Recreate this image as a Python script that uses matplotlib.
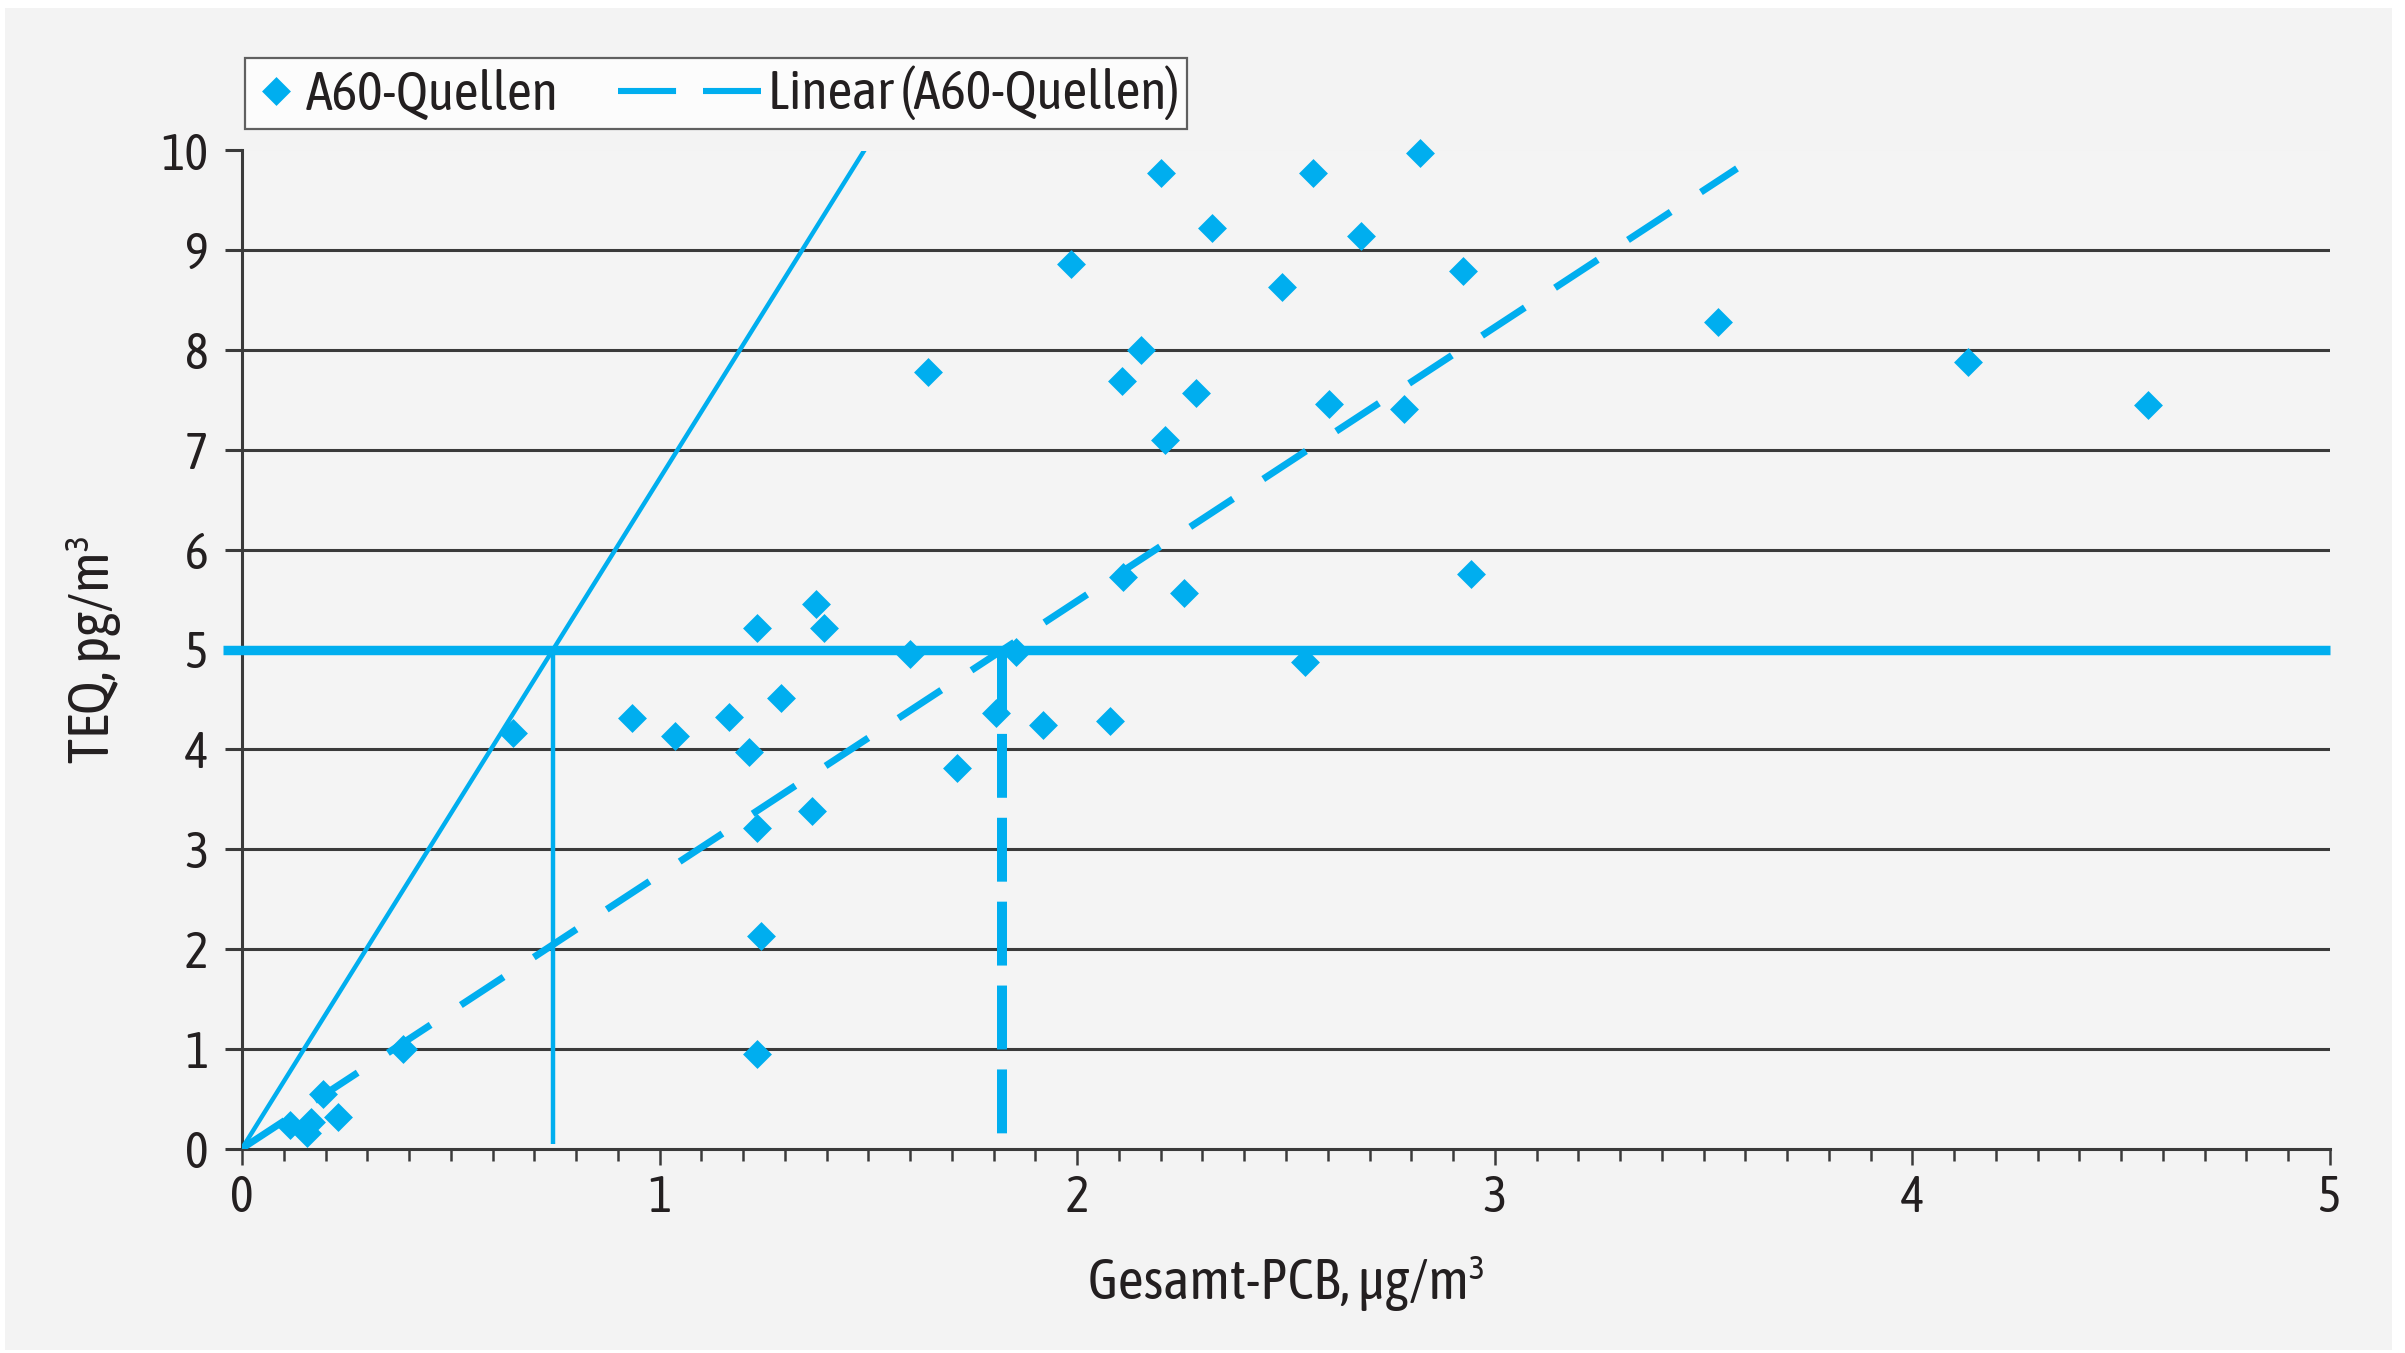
import numpy as np
import matplotlib
matplotlib.use("Agg")
import matplotlib.pyplot as plt
from matplotlib.lines import Line2D
from matplotlib.patches import Rectangle
from matplotlib.legend_handler import HandlerLine2D
from matplotlib import font_manager as fm

# ---------------- data ----------------
pcb = [0.115, 0.155, 0.166, 0.195, 0.23, 0.386, 0.65, 0.933, 1.037, 1.167,
       1.214, 1.233, 1.291, 1.233, 1.243, 1.233, 1.365, 1.375, 1.393, 1.60,
       1.643, 1.711, 1.806, 1.853, 1.919, 1.986, 2.078, 2.107, 2.109, 2.153,
       2.201, 2.211, 2.256, 2.285, 2.322, 2.491, 2.545, 2.565, 2.603, 2.679,
       2.782, 2.82, 2.924, 2.943, 3.535, 4.133, 4.564]
teq = [0.24, 0.16, 0.27, 0.55, 0.32, 1.0, 4.16, 4.31, 4.13, 4.32,
       3.97, 5.22, 4.51, 3.21, 2.13, 0.945, 3.38, 5.46, 5.22, 4.95,
       7.78, 3.81, 4.36, 4.97, 4.24, 8.86, 4.28, 7.69, 5.73, 8.0,
       9.77, 7.10, 5.57, 7.57, 9.22, 8.63, 4.87, 9.77, 7.46, 9.14,
       7.41, 9.97, 8.79, 5.76, 8.28, 7.885, 7.45]

trend_slope = 2.743          # Linear (A60-Quellen), through origin
trend_x = [0.0, 3.58]
steep_x = [0.0, 1.49]        # reference line 5 pg/m3 <-> 0.745 ug/m3
steep_y = [0.0, 10.0]
threshold = 5.0
x_cross_steep = 0.745
x_cross_trend = 1.82

x_ticks = [0, 1, 2, 3, 4, 5]
y_ticks = list(range(0, 11))
grid_levels = [1, 2, 3, 4, 6, 7, 8, 9]

series_label = "A60-Quellen"
trend_label = "Linear (A60-Quellen)"
xlabel = "Gesamt-PCB, µg/m³"
ylabel = "TEQ, pg/m³"

# ---------------- style ----------------
BLUE = "#00aeef"
DARK = "#3a3a3a"
TXT = "#231f20"
BG = "#f4f4f4"

avail = {f.name for f in fm.fontManager.ttflist}
FAM = ["Asap Condensed", "DejaVu Sans"] if "Asap Condensed" in avail else ["DejaVu Sans"]
plt.rcParams["font.family"] = FAM
plt.rcParams["lines.scale_dashes"] = False

W, H, DPI = 2405, 1353, 200
fig = plt.figure(figsize=(W / DPI, H / DPI), dpi=DPI, facecolor="white")
fig.patches.append(Rectangle((5 / W, 3 / H), (2392 - 5) / W, (1345 - 3) / H,
                             transform=fig.transFigure, facecolor="#f3f3f3",
                             edgecolor="none", zorder=-10))
renderer = fig.canvas.get_renderer()


def fit_size(text, target_px, base=20.0):
    t = fig.text(0, 0, text, fontsize=base)
    w = t.get_window_extent(renderer).width
    t.remove()
    return base * target_px / w


TICK_FS = fit_size("10", 47)
XL_FS = fit_size(xlabel, 397)
YL_FS = fit_size(ylabel, 228)
LEG_FS = fit_size(series_label, 253)

ax_l, ax_r, ax_b, ax_t = 242, 2330, 1148.5, 150.5
ax = fig.add_axes([ax_l / W, 1 - ax_b / H, (ax_r - ax_l) / W, (ax_b - ax_t) / H])
ax.set_facecolor(BG)
ax.set_xlim(0, 5)
ax.set_ylim(0, 10)

for s in ("top", "right"):
    ax.spines[s].set_visible(False)
for s in ("left", "bottom"):
    ax.spines[s].set_color(DARK)
    ax.spines[s].set_linewidth(1.1)

ax.set_xticks(x_ticks)
ax.set_xticks(np.arange(0, 5.001, 0.1), minor=True)
ax.set_yticks(y_ticks)
ax.tick_params(axis="x", which="major", direction="out", length=5.8, width=0.9,
               color=DARK, labelsize=TICK_FS, labelcolor=TXT, pad=3.5)
ax.tick_params(axis="x", which="minor", direction="out", length=4.3, width=0.9,
               color=DARK)
ax.tick_params(axis="y", which="major", direction="out", length=6.1, width=1.1,
               color=DARK, labelsize=TICK_FS, labelcolor=TXT, pad=6)

ax.hlines(grid_levels, 0, 5, colors=DARK, linewidth=1.1, zorder=1)

# reference lines
ax.plot([-0.046, 5], [threshold, threshold], color=BLUE, lw=3.4,
        solid_capstyle="butt", clip_on=False, zorder=3)
ax.plot(steep_x, steep_y, color=BLUE, lw=1.6, zorder=3)
ax.plot([x_cross_steep, x_cross_steep], [threshold, 0.05], color=BLUE, lw=1.6,
        solid_capstyle="butt", zorder=3)
ax.plot([x_cross_trend, x_cross_trend], [threshold, 0.05], color=BLUE, lw=3.6,
        dashes=(23, 7.2), dash_capstyle="butt", zorder=3)
trend_y = [trend_slope * v for v in trend_x]
ax.plot(trend_x, trend_y, color=BLUE, lw=2.5, dashes=(18.4, 13),
        dash_capstyle="butt", zorder=3)

diamond = [(0, 1), (1, 0), (0, -1), (-1, 0), (0, 1)]
ax.plot(pcb, teq, linestyle="none", marker=diamond, markersize=10.4,
        color=BLUE, markeredgewidth=0, zorder=4, clip_on=False)

ax.set_xlabel(xlabel, fontsize=XL_FS, color=TXT, va="center")
ax.set_ylabel(ylabel, fontsize=YL_FS, color=TXT, va="center")
ax.xaxis.set_label_coords(0.5, -0.1348)
ax.yaxis.set_label_coords(-0.0709, 0.5)

# legend
fs_px = LEG_FS * DPI / 72.0
HL = 46.0 / fs_px


class HandlerWideDash(HandlerLine2D):
    def __init__(self, extra, **kw):
        super().__init__(**kw)
        self.extra = extra

    def get_xdata(self, legend, xdescent, ydescent, width, height, fontsize):
        xd, xm = super().get_xdata(legend, xdescent, ydescent, width, height, fontsize)
        return [-xdescent - self.extra, -xdescent + width], xm


h1 = Line2D([], [], linestyle="none", marker=diamond, markersize=10.4,
            color=BLUE, markeredgewidth=0)
h2 = Line2D([], [], color=BLUE, lw=2.2, dashes=(20.9, 9.7), dash_capstyle="butt")
extra_pt = (143.0 - 46.0) * 72.0 / DPI
leg = fig.legend([h1, h2], [series_label, trend_label], loc="upper left",
                 bbox_to_anchor=(245 / W, 1 - 58 / H), ncol=2, fontsize=LEG_FS,
                 handlelength=HL, handletextpad=7.0 / fs_px,
                 columnspacing=156.0 / fs_px,
                 borderpad=8.0 / fs_px, borderaxespad=0, frameon=True, fancybox=False,
                 handler_map={h2: HandlerWideDash(extra_pt)})
leg.get_frame().set_edgecolor(DARK)
leg.get_frame().set_linewidth(0.8)
leg.get_frame().set_facecolor("white")
for t in leg.get_texts():
    t.set_color(TXT)

fig.savefig("out.png", dpi=DPI, facecolor=fig.get_facecolor())
